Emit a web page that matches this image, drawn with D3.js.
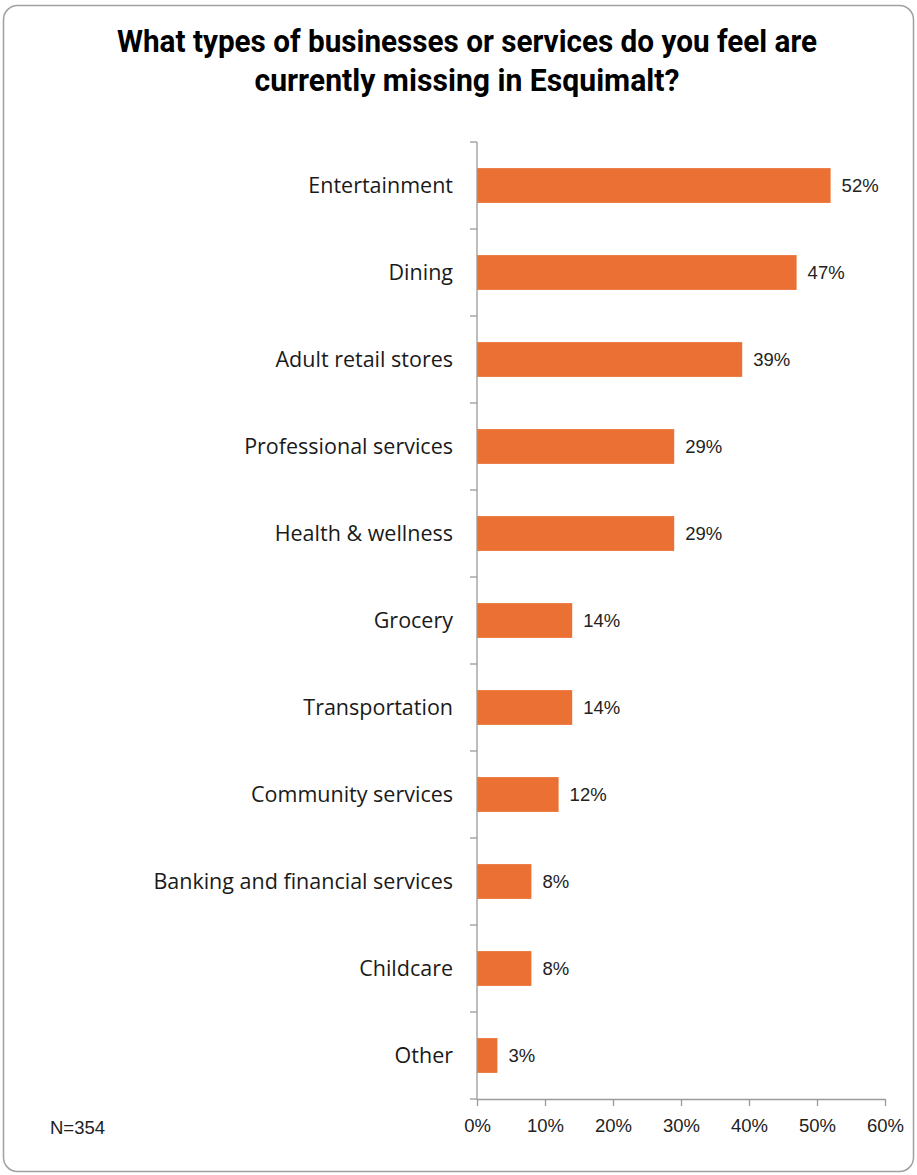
<!DOCTYPE html>
<html><head><meta charset="utf-8">
<script src="https://cdn.jsdelivr.net/npm/d3@7"></script>
<style>body{margin:0;background:#fff}svg{display:block}</style>
</head><body>
<svg id="c" width="917" height="1175"></svg>
<script>
const categories = ["Entertainment","Dining","Adult retail stores","Professional services","Health & wellness","Grocery","Transportation","Community services","Banking and financial services","Childcare","Other"];
const values = [52,47,39,29,29,14,14,12,8,8,3];
const xTicks = [0,10,20,30,40,50,60];
const titleLines = ["What types of businesses or services do you feel are","currently missing in Esquimalt?"];
const titleWidths = [700, 425];
const note = "N=354";

const svg = d3.select("#c");
svg.append("rect").attr("x",3.5).attr("y",5.5).attr("width",910).attr("height",1166)
  .attr("rx",14).attr("fill","#fff").attr("stroke","#a0a0a0").attr("stroke-width",1.5);

const pL=477, pR=885, pT=142, pB=1099;
const x = d3.scaleLinear().domain([0,60]).range([pL,pR]);
const y = d3.scaleBand().domain(categories).range([pT,pB]).paddingInner(0.6).paddingOuter(0.3);

svg.selectAll("text.title").data(titleLines).join("text").attr("class","title")
  .attr("x",467).attr("y",(d,i)=>52+i*39).attr("text-anchor","middle")
  .attr("textLength",(d,i)=>titleWidths[i]).attr("lengthAdjust","spacingAndGlyphs")
  .style("font-family","Roboto,sans-serif").style("font-weight","bold").style("font-size","32px").attr("fill","#000")
  .text(d=>d);

svg.append("g").selectAll("rect").data(categories).join("rect")
  .attr("x",x(0)).attr("y",d=>y(d)).attr("height",y.bandwidth())
  .attr("width",(d,i)=>x(values[i])-x(0)).attr("fill","#ea7133");

svg.append("g").selectAll("text").data(categories).join("text")
  .attr("x",(d,i)=>x(values[i])+11).attr("y",d=>y(d)+y.bandwidth()/2+6.5)
  .style("font-family","'Liberation Sans',Arial,sans-serif").style("font-size","18.5px").attr("fill","#222")
  .text((d,i)=>values[i]+"%");

svg.append("g").selectAll("text").data(categories).join("text")
  .attr("x",453).attr("y",d=>y(d)+y.bandwidth()/2+7).attr("text-anchor","end")
  .style("font-family","'Open Sans','Noto Sans',sans-serif").style("font-size","21.5px").attr("fill","#1a1a1a")
  .text(d=>d);

const ax = "#9a9a9a";
svg.append("line").attr("x1",pL).attr("x2",pL).attr("y1",pT).attr("y2",pB).attr("stroke",ax).attr("stroke-width",1.3);
const bounds = categories.map(d=>y(d)-y.step()*y.paddingInner()/2).concat([pB]);
bounds[0]=pT;
svg.append("g").selectAll("line").data(bounds).join("line")
  .attr("x1",pL-7).attr("x2",pL).attr("y1",d=>d).attr("y2",d=>d).attr("stroke",ax).attr("stroke-width",1.3);

const xa = svg.append("g").attr("transform",`translate(0,${pB})`)
  .call(d3.axisBottom(x).tickValues(xTicks).tickFormat(d=>d+"%").tickSize(7).tickSizeOuter(0));
xa.select(".domain").attr("stroke",ax).attr("stroke-width",1.3);
xa.selectAll(".tick line").attr("stroke",ax).attr("stroke-width",1.3);
xa.selectAll(".tick text").attr("y",20).style("font-family","'Liberation Sans',Arial,sans-serif").style("font-size","18.5px").attr("fill","#222");

svg.append("text").attr("x",50).attr("y",1134).style("font-family","'Liberation Sans',Arial,sans-serif")
  .style("font-size","18.5px").attr("fill","#222").text(note);
</script>
</body></html>
